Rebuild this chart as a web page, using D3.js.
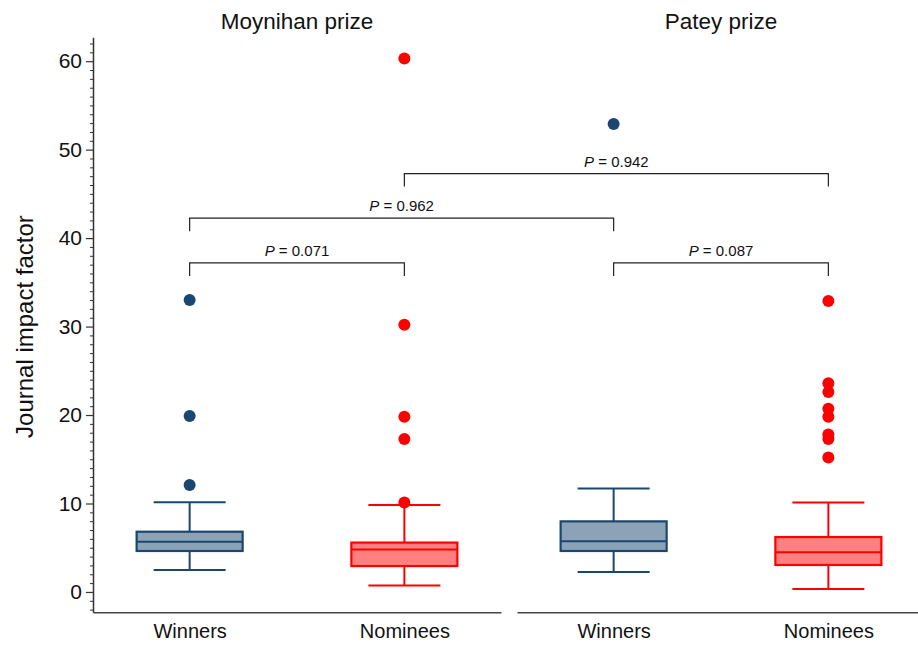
<!DOCTYPE html>
<html>
<head>
<meta charset="utf-8">
<script src="https://cdn.jsdelivr.net/npm/d3@7"></script>
<style>
  body { margin: 0; background: #fff; }
  text { font-family: "Liberation Sans", Arial, sans-serif; fill: #111; }
</style>
</head>
<body>
<div id="chart"></div>
<script>
// data
let prizes = ['Moynihan prize', 'Patey prize'];
let groups = ['Winners', 'Nominees'];

// one entry per box: Moynihan winners, Moynihan nominees, Patey winners, Patey nominees
let boxPrize = [0, 0, 1, 1];
let boxGroup = [0, 1, 0, 1];
let lowerWhisker = [2.49, 0.72, 2.26, 0.34];
let q1 = [4.63, 2.93, 4.63, 3.05];
let median = [5.68, 4.79, 5.72, 4.48];
let q3 = [6.81, 5.58, 7.98, 6.21];
let upperWhisker = [10.14, 9.82, 11.70, 10.12];
let outliers = [
  [12.1, 19.9, 33.0],
  [10.1, 17.3, 19.8, 30.2, 60.3],
  [52.9],
  [15.2, 17.3, 17.8, 19.8, 20.7, 22.6, 23.6, 32.9]
];

// comparison brackets (box index from / to, height, p value)
let pFrom = [0, 0, 1, 2];
let pTo = [1, 2, 3, 3];
let pLevel = [37.2, 42.25, 47.3, 37.2];
let pValue = ['0.071', '0.962', '0.942', '0.087'];

let yTicks = [0, 10, 20, 30, 40, 50, 60];

// svg definitions
let svgWidth = 918;
let svgHeight = 647;

let navy = '#1a476f';
let red = '#ff0000';
let colors = [navy, red];
let fills = ['#8ca3b7', '#ff8080'];

let svg = d3.select('#chart')
  .append('svg')
  .attr('width', svgWidth)
  .attr('height', svgHeight);

// y scale shared by both panels
let y = d3.scaleLinear()
  .domain([-2.3, 62.7])
  .range([612.3, 37.3]);

// panel extents (right one runs off the picture)
let panelX = d3.scaleOrdinal()
  .domain([0, 1])
  .range([[93, 501], [517, 925]]);

function xPos(i) {
  let ext = panelX(boxPrize[i]);
  let xs = d3.scalePoint().domain(groups).range(ext).padding(0.45);
  return xs(groups[boxGroup[i]]);
}

// y axis with minor ticks
let minor = d3.range(-2, 63, 1).filter(v => v % 10 !== 0);
svg.append('g')
  .attr('transform', 'translate(93,0)')
  .call(d3.axisLeft(y).tickValues(minor).tickSize(3).tickFormat(''))
  .call(g => g.select('.domain').remove())
  .call(g => g.selectAll('line').attr('stroke', '#333').attr('stroke-width', 1));

let yAxis = svg.append('g')
  .attr('transform', 'translate(93,0)')
  .call(d3.axisLeft(y).tickValues(yTicks).tickSize(7).tickSizeOuter(0).tickPadding(4));
yAxis.select('.domain').attr('stroke', '#333').attr('stroke-width', 1.5);
yAxis.selectAll('.tick line').attr('stroke', '#333').attr('stroke-width', 1.2);
yAxis.selectAll('.tick text')
  .attr('font-size', '21px')
  .attr('font-family', '"Liberation Sans", Arial, sans-serif')
  .attr('fill', '#111');

// y label
svg.append('text')
  .attr('transform', `translate(33, ${y(30)}) rotate(-90)`)
  .attr('text-anchor', 'middle')
  .attr('font-size', '24px')
  .text('Journal impact factor');

// panels: bottom axis and title
prizes.forEach(function(p, k) {
  let ext = panelX(k);
  let xs = d3.scalePoint().domain(groups).range(ext).padding(0.45);
  let xAxis = svg.append('g')
    .attr('transform', `translate(0, ${y.range()[0]})`)
    .call(d3.axisBottom(xs).tickSize(0).tickSizeOuter(0).tickPadding(12));
  xAxis.select('.domain').attr('stroke', '#444').attr('stroke-width', 1.5);
  xAxis.selectAll('.tick text')
    .attr('font-size', '20px')
    .attr('font-family', '"Liberation Sans", Arial, sans-serif')
    .attr('fill', '#111');

  svg.append('text')
    .attr('x', (ext[0] + ext[1]) / 2)
    .attr('y', 29)
    .attr('text-anchor', 'middle')
    .attr('font-size', '22.5px')
    .text(p);
});

// boxes
let boxW = 106;
let capW = 72;
d3.range(4).forEach(function(i) {
  let cx = xPos(i);
  let c = colors[boxGroup[i]];
  let g = svg.append('g');

  // whiskers
  g.append('line')
    .attr('x1', cx).attr('x2', cx)
    .attr('y1', y(upperWhisker[i])).attr('y2', y(q3[i]))
    .attr('stroke', c).attr('stroke-width', 2);
  g.append('line')
    .attr('x1', cx).attr('x2', cx)
    .attr('y1', y(q1[i])).attr('y2', y(lowerWhisker[i]))
    .attr('stroke', c).attr('stroke-width', 2);
  [upperWhisker[i], lowerWhisker[i]].forEach(function(v) {
    g.append('line')
      .attr('x1', cx - capW / 2).attr('x2', cx + capW / 2)
      .attr('y1', y(v)).attr('y2', y(v))
      .attr('stroke', c).attr('stroke-width', 2);
  });

  // box
  g.append('rect')
    .attr('x', cx - boxW / 2)
    .attr('y', y(q3[i]))
    .attr('width', boxW)
    .attr('height', y(q1[i]) - y(q3[i]))
    .attr('fill', fills[boxGroup[i]])
    .attr('stroke', c)
    .attr('stroke-width', 2.2);
  g.append('line')
    .attr('x1', cx - boxW / 2).attr('x2', cx + boxW / 2)
    .attr('y1', y(median[i])).attr('y2', y(median[i]))
    .attr('stroke', c).attr('stroke-width', 2);

  // outliers
  g.selectAll('circle')
    .data(outliers[i])
    .enter()
    .append('circle')
    .attr('cx', cx)
    .attr('cy', d => y(d))
    .attr('r', 6)
    .attr('fill', c);
});

// p value brackets
let tickLen = 13;
pFrom.forEach(function(a, k) {
  let x1 = xPos(a);
  let x2 = xPos(pTo[k]);
  let yy = y(pLevel[k]);
  svg.append('path')
    .attr('d', `M${x1},${yy + tickLen}V${yy}H${x2}V${yy + tickLen}`)
    .attr('fill', 'none')
    .attr('stroke', '#222')
    .attr('stroke-width', 1.2);
  let t = svg.append('text')
    .attr('x', (x1 + x2) / 2)
    .attr('y', yy - 7)
    .attr('text-anchor', 'middle')
    .attr('font-size', '15px');
  t.append('tspan').attr('font-style', 'italic').text('P');
  t.append('tspan').text(' = ' + pValue[k]);
});
</script>
</body>
</html>
